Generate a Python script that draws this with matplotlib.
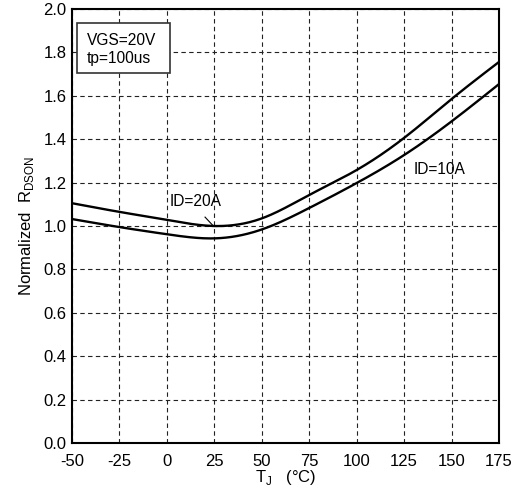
import numpy as np
import matplotlib
matplotlib.use("Agg")
from matplotlib import pyplot as plt
from matplotlib.patches import Rectangle

plt.rcParams['font.family'] = ['Liberation Sans', 'DejaVu Sans']
plt.rcParams['axes.unicode_minus'] = False

tj = [-50, -25, 0, 25, 50, 75, 100, 125, 150, 175]
rds_20a = [1.105, 1.065, 1.028, 1.00, 1.035, 1.143, 1.258, 1.406, 1.585, 1.756]
rds_10a = [1.032, 0.995, 0.962, 0.943, 0.984, 1.083, 1.198, 1.327, 1.482, 1.654]
xticks = [-50, -25, 0, 25, 50, 75, 100, 125, 150, 175]
yticks = [0.0, 0.2, 0.4, 0.6, 0.8, 1.0, 1.2, 1.4, 1.6, 1.8, 2.0]


def spline(x, y, n=400):
    # natural cubic spline through the read points
    x = np.asarray(x, float)
    y = np.asarray(y, float)
    m = len(x)
    h = np.diff(x)
    A = np.zeros((m, m))
    b = np.zeros(m)
    A[0, 0] = A[-1, -1] = 1
    for i in range(1, m - 1):
        A[i, i-1] = h[i-1]
        A[i, i] = 2 * (h[i-1] + h[i])
        A[i, i+1] = h[i]
        b[i] = 6 * ((y[i+1]-y[i])/h[i] - (y[i]-y[i-1])/h[i-1])
    M = np.linalg.solve(A, b)
    xs = np.linspace(x[0], x[-1], n)
    idx = np.clip(np.searchsorted(x, xs) - 1, 0, m - 2)
    x0, x1 = x[idx], x[idx+1]
    hh = x1 - x0
    t0, t1 = x1 - xs, xs - x0
    ys = (M[idx]*t0**3 + M[idx+1]*t1**3)/(6*hh) \
        + (y[idx]/hh - M[idx]*hh/6)*t0 + (y[idx+1]/hh - M[idx+1]*hh/6)*t1
    return xs, ys


fig = plt.figure(figsize=(5.18, 4.95), dpi=100)
ax = fig.add_axes([72/518, 1 - 443/495, 427/518, 434/495])

for y in (rds_20a, rds_10a):
    xs, ys = spline(tj, y)
    ax.plot(xs, ys, color='black', lw=1.7, zorder=3)

ax.set_xlim(-50, 175)
ax.set_ylim(0, 2.0)
ax.set_xticks(xticks)
ax.set_yticks(yticks)
ax.set_yticklabels(['%.1f' % v for v in yticks])
ax.tick_params(length=0, labelsize=12)
ax.tick_params(axis='x', pad=8)
ax.tick_params(axis='y', pad=4)
ax.grid(True, color='#222222', linestyle=(0, (4, 3)), lw=0.8)
for s in ax.spines.values():
    s.set_linewidth(1.5)

ax.set_xlabel(r'T$_\mathregular{J}$   (°C)', fontsize=12, labelpad=-1)
ax.set_ylabel(r'Normalized  R$_\mathregular{DSON}$', fontsize=12, labelpad=5)

ax.add_patch(Rectangle((-47.4, 1.705), 49.0, 0.23, fc='white', ec='#333333',
                       lw=1.2, zorder=4))
ax.text(-42.2, 1.857, 'VGS=20V', fontsize=11.2, va='center', ha='left', zorder=5)
ax.text(-42.2, 1.772, 'tp=100us', fontsize=11.2, va='center', ha='left', zorder=5)

ax.text(15.3, 1.115, 'ID=20A', fontsize=11.2, ha='center', va='center')
ax.plot([20.1, 24.5], [1.041, 1.0], color='black', lw=0.8)
ax.text(143.5, 1.26, 'ID=10A', fontsize=11.2, ha='center', va='center')

fig.savefig('out.png', dpi=100)
